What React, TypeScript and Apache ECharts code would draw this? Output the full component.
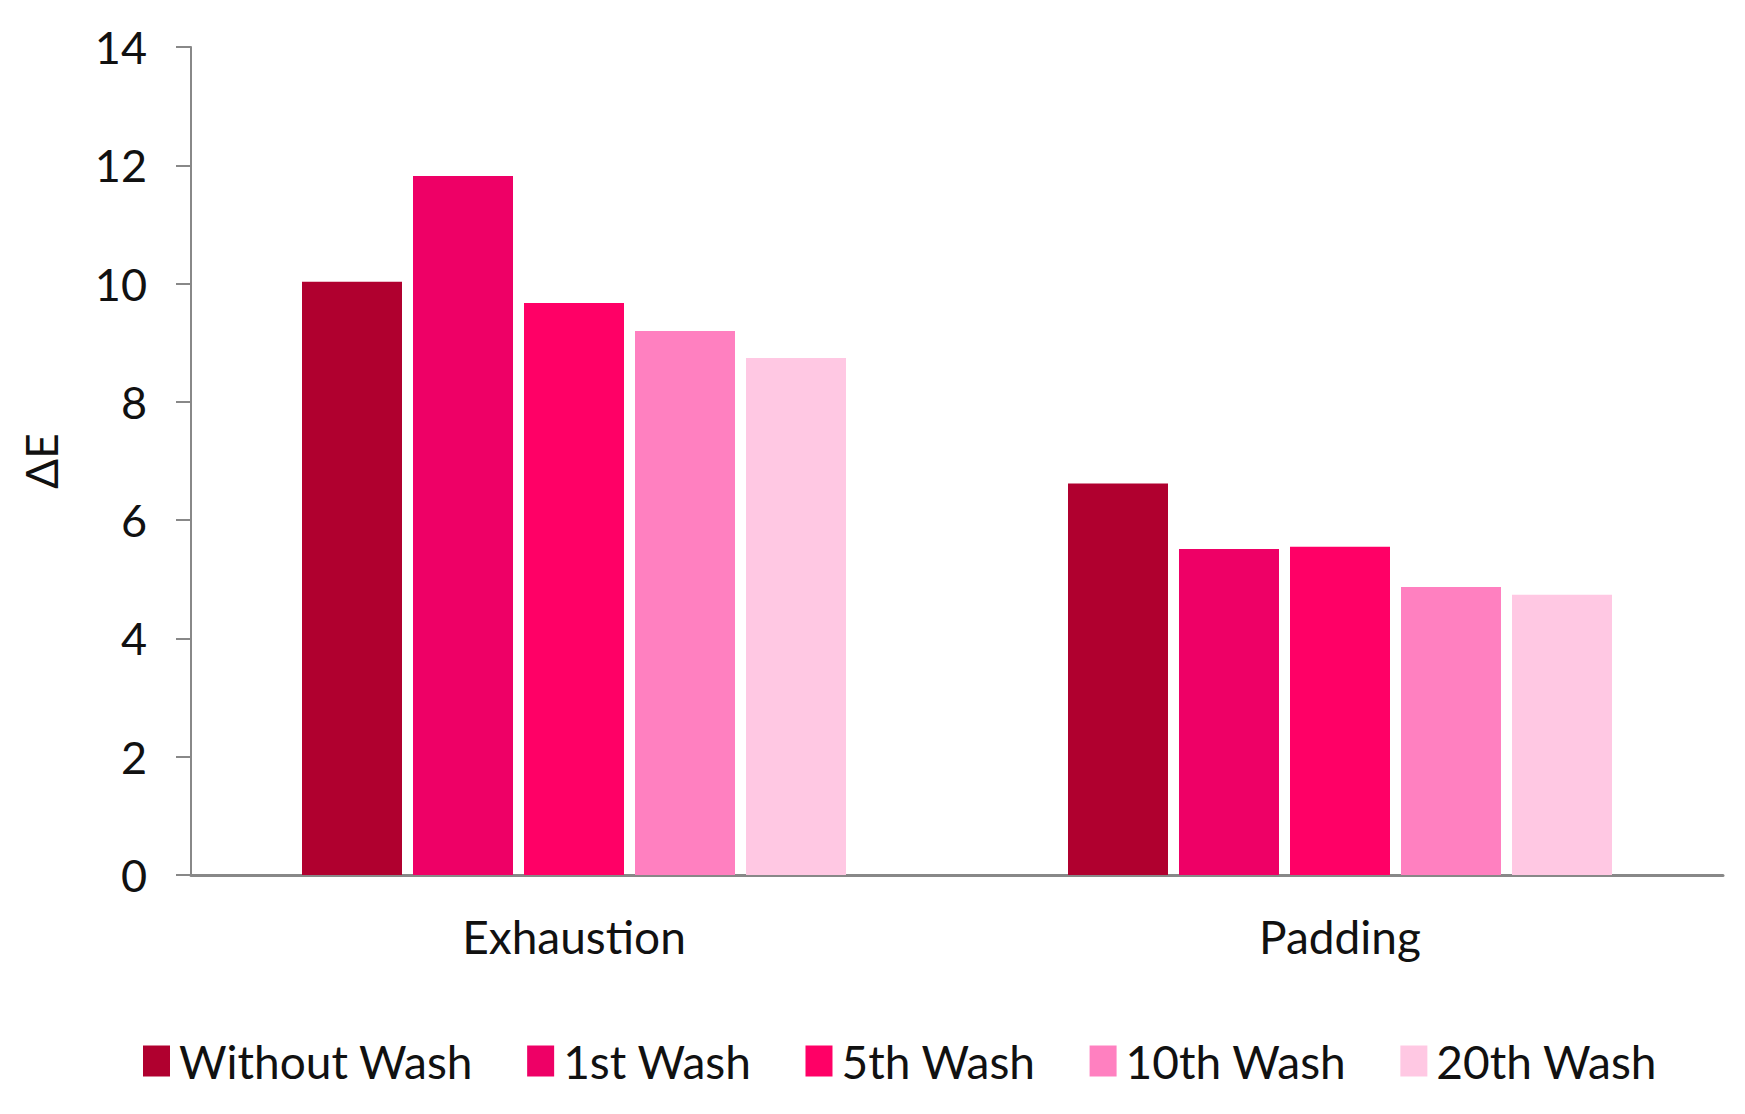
import React, { useEffect, useRef } from "react";
import * as echarts from "echarts";

const categories = ["Exhaustion", "Padding"];
const seriesNames = ["Without Wash", "1st Wash", "5th Wash", "10th Wash", "20th Wash"];
const withoutWash = [10.03, 6.62];
const wash1 = [11.82, 5.51];
const wash5 = [9.67, 5.55];
const wash10 = [9.2, 4.87];
const wash20 = [8.74, 4.74];
const colors = ["#B0002F", "#EE0066", "#FF0066", "#FF80C0", "#FFC8E3"];
const yTicks = [0, 2, 4, 6, 8, 10, 12, 14];

const FONT = "Lato";

export default function App() {
  const ref = useRef<HTMLDivElement>(null);
  useEffect(() => {
    document.body.style.margin = "0";
    const chart = echarts.init(ref.current!, null, { renderer: "svg" });
    const data = [withoutWash, wash1, wash5, wash10, wash20];
    chart.setOption({
      animation: false,
      backgroundColor: "#ffffff",
      textStyle: { fontFamily: FONT },
      grid: { left: 191, top: 47, width: 1532, height: 828, containLabel: false },
      legend: {
        left: 138,
        top: 1033,
        itemWidth: 27,
        itemHeight: 31,
        itemGap: 54,
        icon: "rect",
        textStyle: { fontSize: 46, color: "#111", fontFamily: FONT, padding: [0, 0, 0, 4] },
        data: seriesNames,
      },
      xAxis: {
        type: "category",
        data: categories,
        axisLine: { lineStyle: { color: "#888888", width: 3 } },
        axisTick: { show: false },
        axisLabel: { fontSize: 46, color: "#111", margin: 38, fontFamily: FONT },
      },
      yAxis: {
        type: "value",
        min: yTicks[0],
        max: yTicks[yTicks.length - 1],
        interval: 2,
        name: "ΔE",
        nameLocation: "middle",
        nameGap: 128,
        nameTextStyle: { fontSize: 44, color: "#111", fontFamily: FONT },
        axisLine: { show: true, lineStyle: { color: "#888888", width: 2 } },
        axisTick: { show: true, length: 15, lineStyle: { color: "#888888", width: 2 } },
        axisLabel: { fontSize: 45, color: "#111", margin: 44, fontFamily: FONT },
        splitLine: { show: false },
      },
      series: seriesNames.map((name, i) => ({
        name,
        type: "bar",
        data: data[i],
        barWidth: 100,
        barGap: "11%",
        itemStyle: { color: colors[i] },
      })),
    });
    return () => chart.dispose();
  }, []);
  return <div ref={ref} style={{ width: 1745, height: 1114 }} />;
}
